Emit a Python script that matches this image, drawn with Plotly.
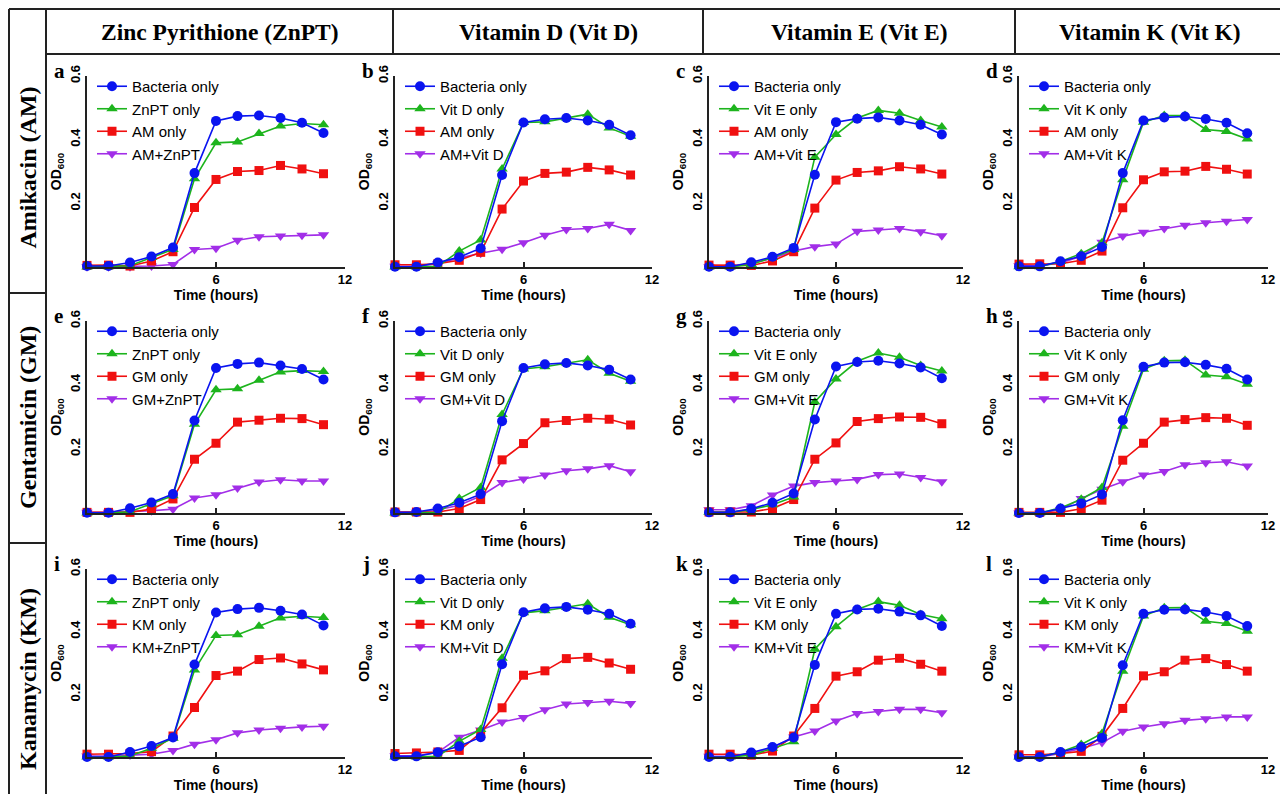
import plotly.graph_objects as go

time_h = [0, 1, 2, 3, 4, 5, 6, 7, 8, 9, 10, 11]
agents = ["ZnPT", "Vit D", "Vit E", "Vit K"]
antibiotics = ["AM", "GM", "KM"]
col_titles = ["Zinc Pyrithione (ZnPT)", "Vitamin D (Vit D)", "Vitamin E (Vit E)", "Vitamin K (Vit K)"]
row_titles = ["Amikacin (AM)", "Gentamicin (GM)", "Kanamycin (KM)"]
panel_letters = ["a", "b", "c", "d", "e", "f", "g", "h", "i", "j", "k", "l"]
x_ticks = [6, 12]
y_ticks = [0.2, 0.4, 0.6]
y_tick_labels = ["0.2", "0.4", "0.6"]

# Row 1 (Amikacin)
a_bacteria = [0.003, 0.003, 0.014, 0.033, 0.061, 0.295, 0.459, 0.474, 0.476, 0.468, 0.453, 0.421]
a_agent = [0.000, 0.001, 0.004, 0.030, 0.055, 0.277, 0.390, 0.393, 0.419, 0.443, 0.451, 0.447]
a_abx = [0.005, 0.006, 0.003, 0.019, 0.048, 0.187, 0.275, 0.300, 0.303, 0.319, 0.308, 0.293]
a_combo = [0.001, 0.001, 0.001, 0.003, 0.008, 0.055, 0.059, 0.084, 0.095, 0.097, 0.100, 0.101]

b_bacteria = [0.001, 0.001, 0.014, 0.031, 0.059, 0.289, 0.454, 0.464, 0.468, 0.460, 0.447, 0.414]
b_agent = [0.000, 0.000, 0.002, 0.050, 0.085, 0.308, 0.454, 0.456, 0.468, 0.480, 0.437, 0.411]
b_abx = [0.007, 0.007, 0.010, 0.021, 0.046, 0.182, 0.270, 0.294, 0.298, 0.313, 0.305, 0.289]
b_combo = [0.002, 0.002, 0.010, 0.028, 0.043, 0.056, 0.076, 0.100, 0.118, 0.121, 0.134, 0.115]

c_bacteria = [0.001, 0.001, 0.015, 0.032, 0.060, 0.290, 0.455, 0.466, 0.470, 0.460, 0.447, 0.416]
c_agent = [0.000, 0.000, 0.008, 0.030, 0.055, 0.345, 0.416, 0.468, 0.492, 0.483, 0.460, 0.440]
c_abx = [0.006, 0.006, 0.005, 0.019, 0.048, 0.185, 0.273, 0.297, 0.302, 0.315, 0.308, 0.292]
c_combo = [0.001, 0.001, 0.012, 0.027, 0.050, 0.064, 0.072, 0.112, 0.116, 0.121, 0.111, 0.098]

d_bacteria = [0.002, 0.002, 0.018, 0.034, 0.063, 0.295, 0.460, 0.470, 0.473, 0.465, 0.453, 0.420]
d_agent = [0.001, 0.001, 0.017, 0.042, 0.076, 0.274, 0.455, 0.476, 0.476, 0.432, 0.426, 0.402]
d_abx = [0.009, 0.010, 0.010, 0.021, 0.050, 0.186, 0.274, 0.299, 0.301, 0.316, 0.307, 0.292]
d_combo = [0.004, 0.004, 0.013, 0.034, 0.078, 0.097, 0.109, 0.121, 0.131, 0.139, 0.144, 0.149]

# Row 2 (Gentamicin)
e_bacteria = [0.001, 0.001, 0.015, 0.033, 0.059, 0.289, 0.453, 0.466, 0.470, 0.461, 0.450, 0.417]
e_agent = [0.000, 0.000, 0.004, 0.028, 0.054, 0.277, 0.385, 0.388, 0.415, 0.441, 0.445, 0.442]
e_abx = [0.002, 0.002, 0.002, 0.012, 0.044, 0.168, 0.218, 0.284, 0.290, 0.296, 0.295, 0.276]
e_combo = [0.002, 0.002, 0.005, 0.007, 0.012, 0.047, 0.057, 0.078, 0.097, 0.104, 0.100, 0.100]

f_bacteria = [0.002, 0.003, 0.014, 0.032, 0.059, 0.287, 0.453, 0.465, 0.469, 0.461, 0.448, 0.417]
f_agent = [0.000, 0.000, 0.002, 0.045, 0.080, 0.308, 0.450, 0.457, 0.469, 0.479, 0.437, 0.412]
f_abx = [0.003, 0.003, 0.003, 0.014, 0.042, 0.166, 0.217, 0.282, 0.289, 0.296, 0.293, 0.275]
f_combo = [0.002, 0.002, 0.010, 0.024, 0.053, 0.095, 0.106, 0.119, 0.132, 0.138, 0.148, 0.129]

g_bacteria = [0.002, 0.002, 0.013, 0.032, 0.061, 0.292, 0.458, 0.472, 0.476, 0.467, 0.455, 0.421]
g_agent = [0.002, 0.002, 0.011, 0.026, 0.050, 0.347, 0.419, 0.474, 0.500, 0.487, 0.461, 0.444]
g_abx = [0.003, 0.003, 0.003, 0.014, 0.042, 0.168, 0.219, 0.286, 0.295, 0.300, 0.299, 0.279]
g_combo = [0.010, 0.010, 0.023, 0.056, 0.084, 0.095, 0.100, 0.105, 0.120, 0.122, 0.111, 0.098]

h_bacteria = [0.000, 0.000, 0.014, 0.030, 0.058, 0.290, 0.457, 0.470, 0.471, 0.463, 0.451, 0.417]
h_agent = [0.000, 0.000, 0.016, 0.043, 0.080, 0.271, 0.449, 0.476, 0.477, 0.431, 0.426, 0.402]
h_abx = [0.002, 0.002, 0.002, 0.013, 0.040, 0.165, 0.218, 0.284, 0.292, 0.298, 0.296, 0.274]
h_combo = [0.000, 0.000, 0.011, 0.045, 0.074, 0.098, 0.119, 0.130, 0.151, 0.157, 0.160, 0.147]

# Row 3 (Kanamycin)
i_bacteria = [0.000, 0.000, 0.016, 0.035, 0.062, 0.295, 0.461, 0.472, 0.476, 0.467, 0.455, 0.420]
i_agent = [0.000, 0.000, 0.003, 0.028, 0.060, 0.278, 0.388, 0.390, 0.417, 0.444, 0.449, 0.445]
i_abx = [0.009, 0.009, 0.011, 0.017, 0.067, 0.158, 0.260, 0.274, 0.311, 0.316, 0.297, 0.278]
i_combo = [0.003, 0.003, 0.006, 0.009, 0.021, 0.041, 0.055, 0.077, 0.086, 0.092, 0.096, 0.098]

j_bacteria = [0.002, 0.002, 0.015, 0.034, 0.063, 0.296, 0.462, 0.475, 0.479, 0.470, 0.457, 0.425]
j_agent = [0.000, 0.000, 0.002, 0.050, 0.088, 0.315, 0.460, 0.467, 0.478, 0.489, 0.446, 0.422]
j_abx = [0.011, 0.013, 0.016, 0.021, 0.077, 0.157, 0.261, 0.275, 0.314, 0.318, 0.300, 0.280]
j_combo = [0.004, 0.004, 0.015, 0.063, 0.086, 0.112, 0.126, 0.151, 0.169, 0.174, 0.178, 0.171]

k_bacteria = [0.000, 0.001, 0.014, 0.032, 0.062, 0.294, 0.457, 0.471, 0.473, 0.464, 0.452, 0.418]
k_agent = [0.000, 0.000, 0.006, 0.028, 0.049, 0.344, 0.416, 0.471, 0.496, 0.484, 0.455, 0.441]
k_abx = [0.009, 0.009, 0.006, 0.019, 0.067, 0.155, 0.258, 0.272, 0.309, 0.315, 0.296, 0.274]
k_combo = [0.002, 0.003, 0.011, 0.030, 0.064, 0.083, 0.115, 0.139, 0.145, 0.152, 0.152, 0.141]

l_bacteria = [0.000, 0.000, 0.016, 0.032, 0.061, 0.293, 0.457, 0.470, 0.471, 0.463, 0.450, 0.418]
l_agent = [0.000, 0.000, 0.016, 0.040, 0.075, 0.274, 0.450, 0.476, 0.477, 0.433, 0.426, 0.401]
l_abx = [0.007, 0.007, 0.011, 0.018, 0.066, 0.155, 0.259, 0.272, 0.309, 0.314, 0.295, 0.274]
l_combo = [0.000, 0.000, 0.011, 0.027, 0.046, 0.082, 0.096, 0.106, 0.117, 0.122, 0.128, 0.128]

panels = [
    (a_bacteria, a_agent, a_abx, a_combo), (b_bacteria, b_agent, b_abx, b_combo),
    (c_bacteria, c_agent, c_abx, c_combo), (d_bacteria, d_agent, d_abx, d_combo),
    (e_bacteria, e_agent, e_abx, e_combo), (f_bacteria, f_agent, f_abx, f_combo),
    (g_bacteria, g_agent, g_abx, g_combo), (h_bacteria, h_agent, h_abx, h_combo),
    (i_bacteria, i_agent, i_abx, i_combo), (j_bacteria, j_agent, j_abx, j_combo),
    (k_bacteria, k_agent, k_abx, k_combo), (l_bacteria, l_agent, l_abx, l_combo),
]

# ---------- layout geometry (page pixels) ----------
PAGE_OFF = 8                 # default body margin of the html page
W, H = 1288 - PAGE_OFF, 794 - PAGE_OFF
COL_X0 = [87, 395, 709, 1019]
COL_X1 = [345, 652, 963, 1268]
ROW_Y0 = [267, 513, 757]   # y = 0
ROW_Y1 = [76, 321, 569]    # y = 0.6

COLORS = ["#0a14f0", "#1db41d", "#f01010", "#a22ee8"]
SYMBOLS = ["circle", "triangle-up", "square", "triangle-down"]
MSIZE = [10, 10, 9, 10]
SANS = "Arial, Liberation Sans, sans-serif"
SERIF = "Times New Roman, Liberation Serif, serif"


def px_x(p):
    return (p - PAGE_OFF) / W


def px_y(p):
    return 1 - (p - PAGE_OFF) / H


fig = go.Figure()
layout = dict(
    width=W, height=H, margin=dict(l=0, r=0, t=0, b=0, autoexpand=False),
    paper_bgcolor="white", plot_bgcolor="white", showlegend=True,
)

annotations = []
for idx, series in enumerate(panels):
    r, c = divmod(idx, 4)
    k = idx + 1
    sfx = "" if k == 1 else str(k)
    xa, ya = "x" + sfx, "y" + sfx
    leg = "legend" + sfx
    ab = antibiotics[r]
    ag = agents[c]
    names = ["Bacteria only", f"{ag} only", f"{ab} only", f"{ab}+{ag}"]
    # draw back-to-front so the blue curve is on top
    for s in [3, 2, 1, 0]:
        fig.add_trace(go.Scatter(
            x=time_h, y=series[s], name=names[s], mode="lines+markers",
            line=dict(color=COLORS[s], width=1.6),
            marker=dict(symbol=SYMBOLS[s], color=COLORS[s], size=MSIZE[s]),
            xaxis=xa, yaxis=ya, legend=leg, cliponaxis=False, showlegend=True,
        ))
    layout["xaxis" + sfx] = dict(
        domain=[px_x(COL_X0[c]), px_x(COL_X1[c])], anchor=ya, range=[0, 12],
        tickvals=x_ticks, ticks="inside", ticklen=5, tickwidth=1.5, tickcolor="#222",
        showline=True, linecolor="#222", linewidth=1.5, showgrid=False, zeroline=False,
        tickfont=dict(family=SANS, size=13, color="black", weight="bold"),
        title=dict(text="Time (hours)", standoff=0,
                   font=dict(family=SANS, size=14, color="black", weight="bold")),
        fixedrange=True,
    )
    layout["yaxis" + sfx] = dict(
        domain=[px_y(ROW_Y0[r]), px_y(ROW_Y1[r])], anchor=xa, range=[0, 0.6],
        tickvals=y_ticks, ticktext=y_tick_labels, tickangle=-90, ticks="",
        showline=True, linecolor="#222", linewidth=1.5, showgrid=False, zeroline=False,
        tickfont=dict(family=SANS, size=13, color="black", weight="bold"),
        title=dict(text="OD<sub>600</sub>", standoff=3,
                   font=dict(family=SANS, size=14, color="black", weight="bold")),
        fixedrange=True,
    )
    layout[leg] = dict(
        x=px_x(COL_X0[c] + 5), y=px_y(ROW_Y1[r] - 6), xanchor="left", yanchor="top",
        bgcolor="rgba(0,0,0,0)", borderwidth=0, traceorder="reversed",
        font=dict(family=SANS, size=15, color="black"),
        itemclick=False, itemdoubleclick=False,
    )
    annotations.append(dict(
        text=f"<b>{panel_letters[idx]}</b>", xref="paper", yref="paper",
        x=px_x(COL_X0[c] - 35), y=px_y(ROW_Y1[r] - 5), xanchor="left", yanchor="middle",
        showarrow=False, font=dict(family=SERIF, size=21, color="black"),
    ))

# header / row titles (table)
HEAD_X = [46, 393, 703, 1015, 1285]
for c, t in enumerate(col_titles):
    annotations.append(dict(
        text=f"<b>{t}</b>", xref="paper", yref="paper",
        x=px_x((HEAD_X[c] + HEAD_X[c + 1]) / 2), y=px_y(32), xanchor="center", yanchor="middle",
        showarrow=False, font=dict(family=SERIF, size=23.5, color="black"),
    ))
ROW_Y = [54, 293, 543, 815]
for r, t in enumerate(row_titles):
    annotations.append(dict(
        text=f"<b>{t}</b>", xref="paper", yref="paper", textangle=-90,
        x=px_x(28), y=px_y((ROW_Y[r] + ROW_Y[r + 1]) / 2 - (6 if r == 0 else 0)),
        xanchor="center", yanchor="middle",
        showarrow=False, font=dict(family=SERIF, size=24, color="black"),
    ))
layout["annotations"] = annotations

LINE = dict(color="#222", width=2)
shapes = []


def seg(x0, y0, x1, y1):
    shapes.append(dict(type="line", xref="paper", yref="paper",
                       x0=px_x(x0), y0=px_y(y0), x1=px_x(x1), y1=px_y(y1), line=LINE))


seg(9, 9, 1285, 9)          # top border
seg(9, 9, 9, 830)           # left border
seg(1285, 9, 1285, 830)     # right border
seg(46, 9, 46, 830)         # row-title column divider
seg(46, 54, 1285, 54)       # header bottom
for xh in HEAD_X[1:4]:
    seg(xh, 9, xh, 54)
seg(9, 293, 46, 293)
seg(9, 543, 46, 543)
layout["shapes"] = shapes

fig.update_layout(**layout)
fig.write_html("out.html")
